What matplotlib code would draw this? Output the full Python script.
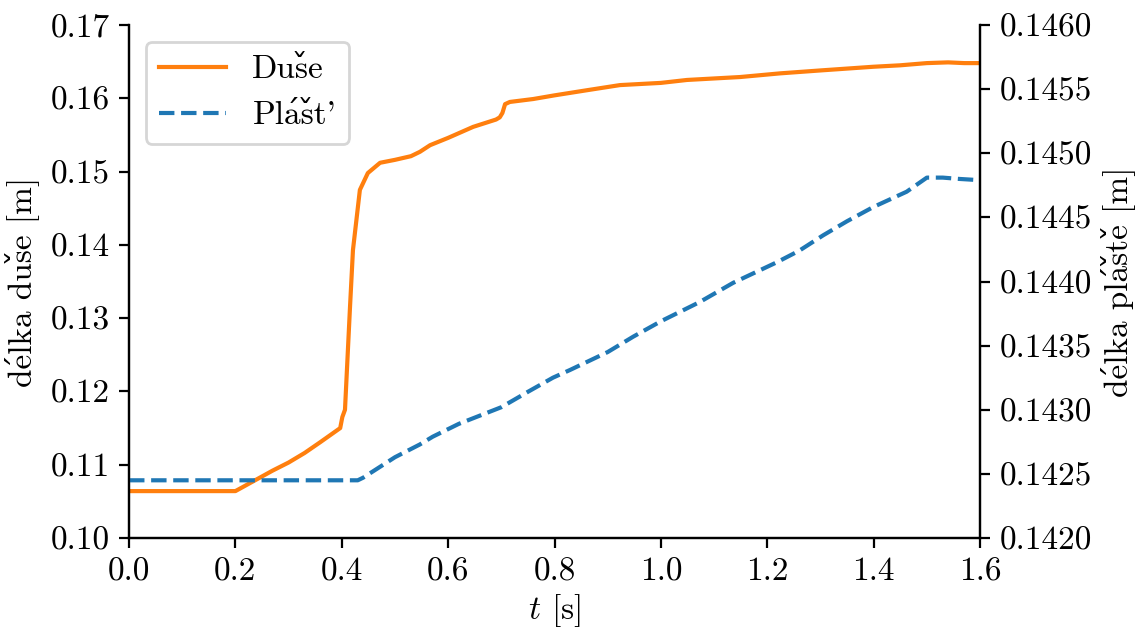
import matplotlib
matplotlib.use("Agg")
import matplotlib.pyplot as plt
from matplotlib.ticker import FormatStrFormatter, MultipleLocator

plt.rcParams['font.family'] = ['cmr10', 'DejaVu Serif']
plt.rcParams['mathtext.fontset'] = 'cm'
plt.rcParams['axes.formatter.use_mathtext'] = True
plt.rcParams['font.size'] = 12
plt.rcParams['axes.unicode_minus'] = False

# Duše (inner tube) length [m]
t_duse = [0.00, 0.05, 0.10, 0.15, 0.200, 0.210, 0.230, 0.250, 0.270, 0.300,
          0.330, 0.360, 0.397, 0.401, 0.406, 0.4155, 0.421, 0.434, 0.449, 0.472,
          0.500, 0.530, 0.547, 0.566, 0.600, 0.647, 0.690, 0.697, 0.702, 0.707,
          0.716, 0.760, 0.800, 0.861, 0.923, 1.000, 1.049, 1.149, 1.224, 1.300,
          1.399, 1.450, 1.500, 1.540, 1.570, 1.600]
l_duse = [0.1064, 0.1064, 0.1064, 0.1064, 0.1064, 0.1068, 0.1076, 0.1084, 0.1092, 0.1103,
          0.1116, 0.1131, 0.1150, 0.1165, 0.1175, 0.1316, 0.1393, 0.1475, 0.1498, 0.1512,
          0.1516, 0.1521, 0.1527, 0.1536, 0.1546, 0.1561, 0.1571, 0.1574, 0.1580, 0.1592,
          0.1595, 0.1599, 0.1604, 0.1611, 0.1618, 0.1621, 0.1625, 0.1629, 0.1634, 0.1638,
          0.1643, 0.1645, 0.1648, 0.1649, 0.1648, 0.1648]

# Plášť (tyre casing) length [m]
t_plast = [0.00, 0.10, 0.20, 0.30, 0.43, 0.44, 0.485, 0.50, 0.547, 0.571,
           0.62, 0.70, 0.75, 0.797, 0.829, 0.90, 0.948, 1.000, 1.073, 1.136,
           1.218, 1.260, 1.305, 1.350, 1.399, 1.462, 1.500, 1.530, 1.560, 1.600]
l_plast = [0.14245, 0.14245, 0.14245, 0.14245, 0.14245, 0.14247, 0.14259, 0.14263, 0.14273, 0.14279,
           0.14289, 0.14302, 0.14314, 0.14325, 0.14331, 0.14345, 0.14357, 0.14369, 0.14384, 0.14399,
           0.14415, 0.14424, 0.14436, 0.14447, 0.14458, 0.14470, 0.14481, 0.14481, 0.14480, 0.14479]

# Labels (accents written as combining marks so they sit on the cmr10 glyphs)
lab_duse = 'Dus\u030ce'
lab_plast = "Pla\u0301s\u030ct'"
ylab_left = 'de\u0301lka dus\u030ce [m]'
ylab_right = 'de\u0301lka pla\u0301s\u030cte\u030c [m]'

fig = plt.figure(figsize=(5.68, 3.14), dpi=200)
ax = fig.add_axes([0.1136, 0.1433, 0.7491, 0.8169])
ax2 = ax.twinx()

l1, = ax.plot(t_duse, l_duse, color='#ff7f0e', lw=1.5, label=lab_duse)
l2, = ax2.plot(t_plast, l_plast, color='#1f77b4', lw=1.5, ls='--', label=lab_plast)

ax.set_xlim(0, 1.6)
ax.set_ylim(0.10, 0.17)
ax2.set_ylim(0.1420, 0.1460)
ax.xaxis.set_major_locator(MultipleLocator(0.2))
ax.yaxis.set_major_locator(MultipleLocator(0.01))
ax2.yaxis.set_major_locator(MultipleLocator(0.0005))
ax.xaxis.set_major_formatter(FormatStrFormatter('%.1f'))
ax.yaxis.set_major_formatter(FormatStrFormatter('%.2f'))
ax2.yaxis.set_major_formatter(FormatStrFormatter('%.4f'))

for a in (ax, ax2):
    a.spines['top'].set_visible(False)

ax.set_xlabel(r'$t$ [s]', labelpad=2)
ax.set_ylabel(ylab_left, labelpad=4)
ax2.set_ylabel(ylab_right, labelpad=3)

ax.legend(handles=[l1, l2], loc='upper left')

fig.savefig('out.png', dpi=200)
